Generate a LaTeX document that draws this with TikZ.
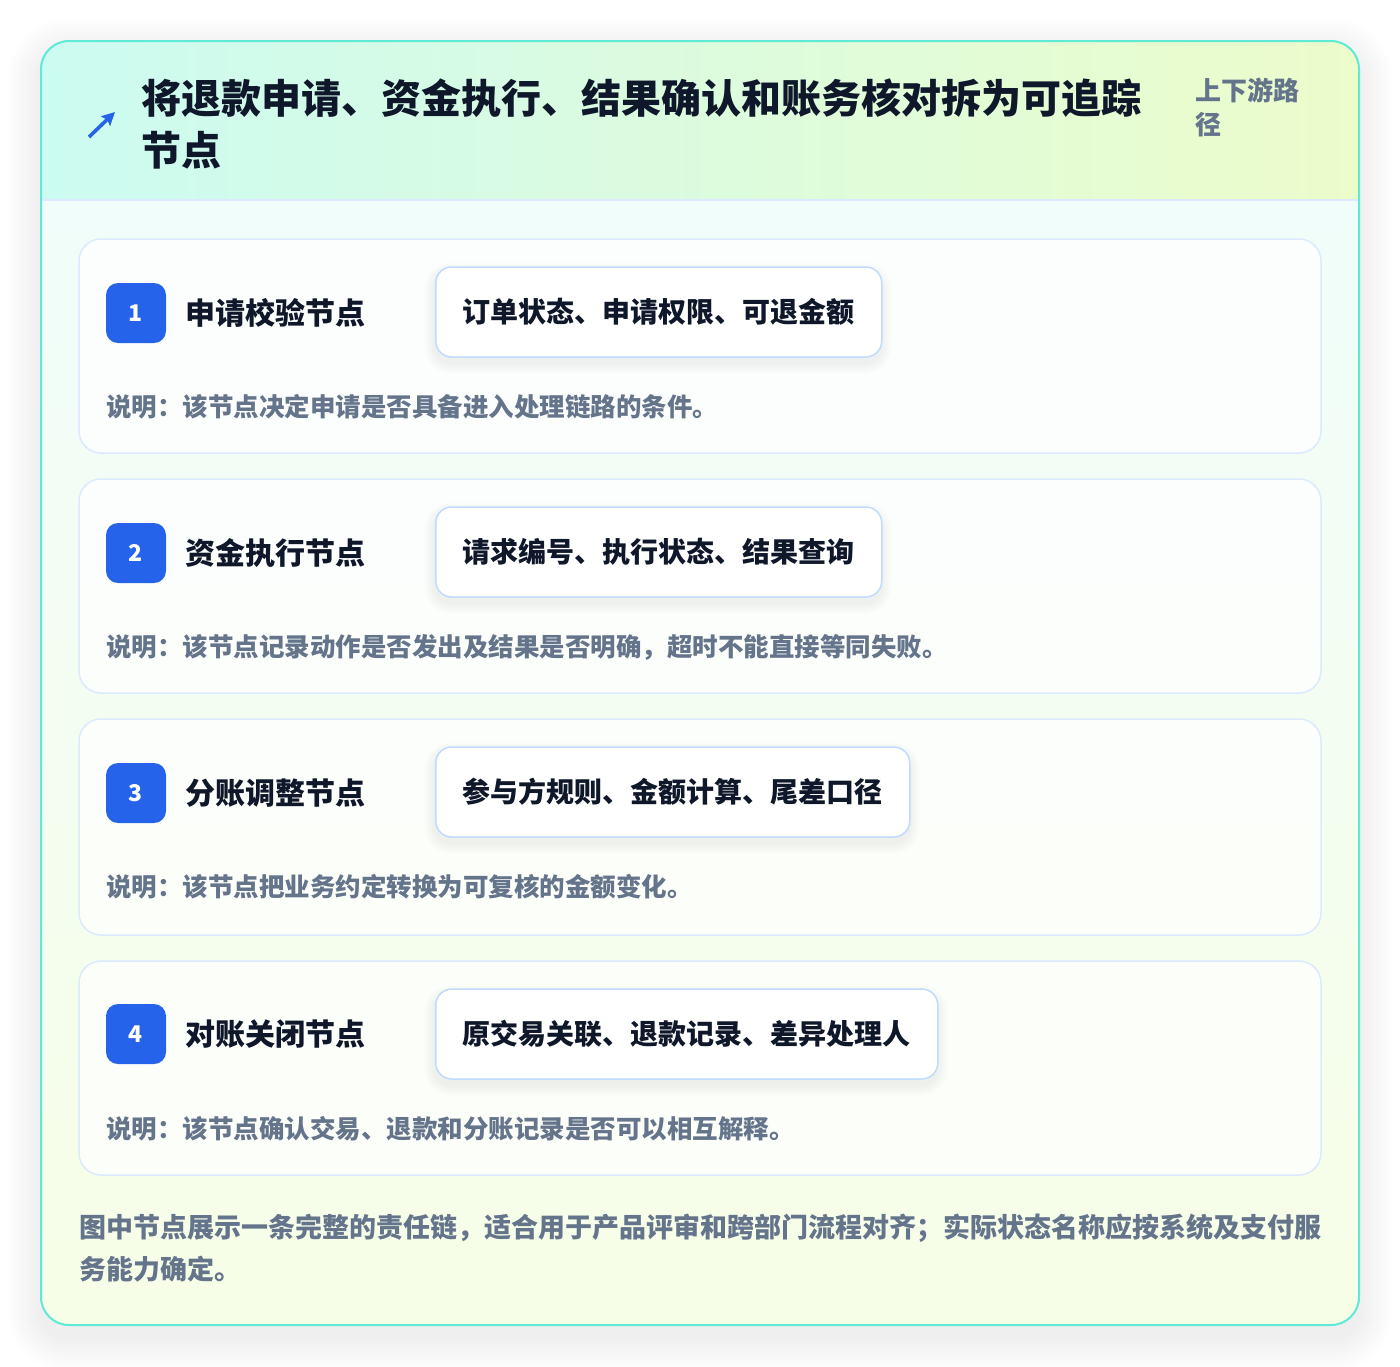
\documentclass[tikz,border=0pt]{standalone}
\usepackage{fontspec}
\setmainfont{Noto Sans CJK SC}
\usetikzlibrary{positioning, arrows.meta}

\definecolor{tealline}{HTML}{5EEAD4}
\definecolor{headL}{HTML}{CCFBF1}
\definecolor{headR}{HTML}{ECFCCB}
\definecolor{bodyT}{HTML}{F0FDFA}
\definecolor{bodyB}{HTML}{F7FEE7}
\definecolor{cardline}{HTML}{DBEAFE}
\definecolor{tagline}{HTML}{BFDBFE}
\definecolor{badgeblue}{HTML}{2563EB}
\definecolor{inkdark}{HTML}{0F172A}
\definecolor{inkgray}{HTML}{64748B}

\tikzset{
    stepcard/.style={draw=cardline, line width=1.5pt, fill=white, fill opacity=.75, text opacity=1,
        rounded corners=22pt, minimum width=1242pt, minimum height=214pt, inner sep=0},
    badge/.style={fill=badgeblue, text=white, rounded corners=12pt, minimum size=60pt, inner sep=0,
        font=\fontsize{23}{23}\selectfont\bfseries},
    steptitle/.style={text=inkdark, inner sep=0, font=\fontsize{30}{30}\selectfont\bfseries},
    tagbox/.style={draw=tagline, line width=1.5pt, fill=white, rounded corners=16pt,
        minimum height=90pt, inner xsep=27pt, text=inkdark, font=\fontsize{28}{28}\selectfont\bfseries},
    stepnote/.style={text=inkgray, inner sep=0, anchor=west, font=\fontsize{25.5}{25.5}\selectfont\bfseries},
}

% soft shadow under a tag: right edge, centre line
\newcommand{\tagshadow}[2]{%
    \foreach \s [evaluate=\s as \rr using 16+1.5*\s] in {1,...,7}
        \fill[black, fill opacity=.006, rounded corners=\rr pt]
            ({435-1.5*\s},{#2-45-1.5*\s+6}) rectangle ({#1+1.5*\s},{#2+45+1.5*\s+6});
}

\begin{document}
\begin{tikzpicture}[x=1pt, y=-1pt, node distance=19pt]

        \useasboundingbox[fill=white] (0,0) rectangle (1400,1366);

        %OUTER CARD
        \foreach \s [evaluate=\s as \rr using 28+2.2*\s] in {1,...,16}
            \fill[black, fill opacity=.005, rounded corners=\rr pt]
                ({41-2.2*\s},{41-2.2*\s+12}) rectangle ({1359+2.2*\s},{1325+2.2*\s+12});
        \fill[white, rounded corners=28pt] (41,41) rectangle (1359,1325);
        \begin{scope}
            \clip[rounded corners=28pt] (41,41) rectangle (1359,1325);
            \fill[top color=bodyT, bottom color=bodyB] (41,200) rectangle (1359,1325);
            \fill[left color=headL, right color=headR] (41,41) rectangle (1359,200);
            \draw[cardline, line width=1.5pt] (41,200) -- (1359,200);
        \end{scope}
        \draw[tealline, line width=2pt, rounded corners=28pt] (41,41) rectangle (1359,1325);

        %HEADER
        \coordinate (arrowtail) at (89,137);
        \coordinate (arrowtip) at (115,112);
        \draw[badgeblue, line width=3.6pt, -{Stealth[length=13pt, width=13pt, inset=2pt]}] (arrowtail) -- (arrowtip);
        \node[anchor=west, align=left, inner sep=0, text=inkdark,
            font=\fontsize{40}{52}\selectfont\bfseries] (head) at (141,124)
            {将退款申请、资金执行、结果确认和账务核对拆为可追踪\\节点};
        \node[anchor=west, align=left, inner sep=0, text=inkgray,
            font=\fontsize{26}{34}\selectfont\bfseries] (route) at (1195,107) {上下游路\\径};

        %STEP 1
        \node[stepcard] (card1) at (700,346) {};
        \node[badge] (b1) at (136,313) {1};
        \node[steptitle, right=of b1] (t1) {申请校验节点};
        \tagshadow{881}{312}
        \node[tagbox, anchor=west] (g1) at (435,312) {订单状态、申请权限、可退金额};
        \node[stepnote] (n1) at (106,407) {说明：该节点决定申请是否具备进入处理链路的条件。};

        %STEP 2
        \node[stepcard] (card2) at (700,586) {};
        \node[badge] (b2) at (136,553) {2};
        \node[steptitle, right=of b2] (t2) {资金执行节点};
        \tagshadow{881}{552}
        \node[tagbox, anchor=west] (g2) at (435,552) {请求编号、执行状态、结果查询};
        \node[stepnote] (n2) at (106,647) {说明：该节点记录动作是否发出及结果是否明确，超时不能直接等同失败。};

        %STEP 3
        \node[stepcard, minimum height=216pt] (card3) at (700,827) {};
        \node[badge] (b3) at (136,793) {3};
        \node[steptitle, right=of b3] (t3) {分账调整节点};
        \tagshadow{909}{792}
        \node[tagbox, anchor=west] (g3) at (435,792) {参与方规则、金额计算、尾差口径};
        \node[stepnote] (n3) at (106,887) {说明：该节点把业务约定转换为可复核的金额变化。};

        %STEP 4
        \node[stepcard] (card4) at (700,1068) {};
        \node[badge] (b4) at (136,1034) {4};
        \node[steptitle, right=of b4] (t4) {对账关闭节点};
        \tagshadow{937}{1034}
        \node[tagbox, anchor=west] (g4) at (435,1034) {原交易关联、退款记录、差异处理人};
        \node[stepnote] (n4) at (106,1129) {说明：该节点确认交易、退款和分账记录是否可以相互解释。};

        %FOOTER
        \node[anchor=west, align=left, inner sep=0, text=inkgray,
            font=\fontsize{27}{42}\selectfont\bfseries] (foot) at (79,1248)
            {图中节点展示一条完整的责任链，适合用于产品评审和跨部门流程对齐；实际状态名称应按系统及支付服\\务能力确定。};

    \end{tikzpicture}
\end{document}
